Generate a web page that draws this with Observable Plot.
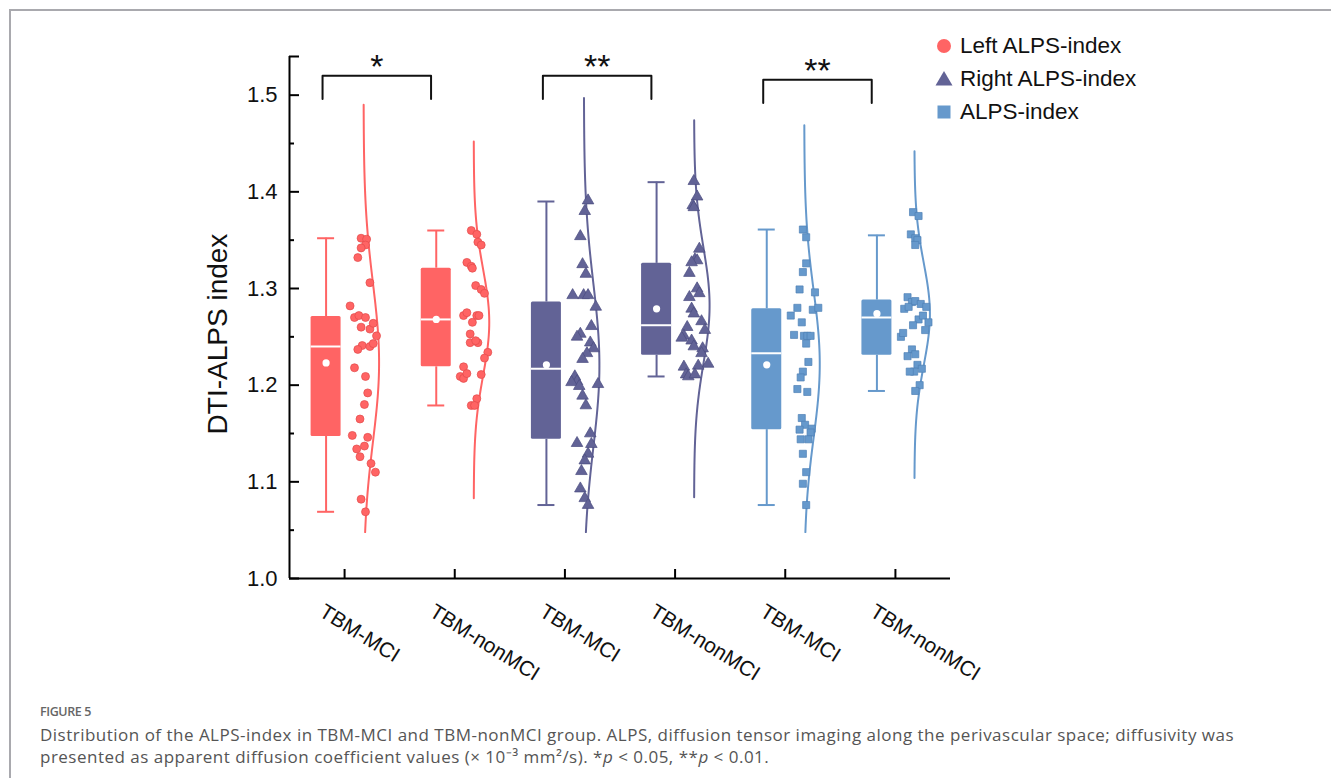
<!DOCTYPE html>
<html><head><meta charset="utf-8">
<script src="https://cdn.jsdelivr.net/npm/d3@7"></script>
<script src="https://cdn.jsdelivr.net/npm/@observablehq/plot@0.6"></script>
<style>
body{margin:0;background:#fff;}
#wrap{position:relative;width:1331px;height:778px;overflow:hidden;background:#fff;font-family:"Liberation Sans",Arial,sans-serif;}
#frame{position:absolute;left:9px;top:9px;width:1340px;height:800px;border-top:2px solid #a9a9ae;border-left:2px solid #a9a9ae;}
#chart{position:absolute;left:0;top:0;}
.item{position:absolute;left:934px;height:32px;display:flex;align-items:center;font-size:22.5px;color:#111;white-space:nowrap;}
.item svg{width:20px;height:20px;margin-right:6px;}
#fig{position:absolute;left:40px;top:703px;font-family:"Open Sans";font-size:12.5px;font-weight:600;color:#666;letter-spacing:-0.4px;}
#caption{position:absolute;left:40px;top:724px;width:1280px;font-family:"Open Sans";font-size:17px;line-height:22px;color:#555;letter-spacing:0.49px;white-space:nowrap;}
</style></head>
<body>
<div id="wrap">
  <div id="frame"></div>
  <div id="chart"></div>
  <div id="legend"></div>
  <div id="fig">FIGURE 5</div>
  <div id="caption">Distribution of the ALPS-index in TBM-MCI and TBM-nonMCI group. ALPS, diffusion tensor imaging along the perivascular space; diffusivity was<br>presented as apparent diffusion coefficient values (× 10⁻³ mm²/s). *<i>p</i> &lt; 0.05, **<i>p</i> &lt; 0.01.</div>
</div>
<script>
// ---------- data ----------
const groups = ["TBM-MCI","TBM-nonMCI","TBM-MCI","TBM-nonMCI","TBM-MCI","TBM-nonMCI"];
const seriesNames = ["Left ALPS-index","Right ALPS-index","ALPS-index"];
const seriesColors = ["#ff6464","#626396","#6699cc"];
const seriesStrokes = ["#e24a4a","#4b4c80","#4f81b6"];
const seriesSymbols = ["circle","triangle","square"];

const leftMCI = [1.352,1.351,1.345,1.342,1.332,1.306,1.282,1.270,1.272,1.270,1.260,1.258,1.264,1.251,1.241,1.237,1.240,1.243,1.218,1.209,1.192,1.180,1.165,1.148,1.146,1.134,1.137,1.126,1.119,1.110,1.082,1.069];
const leftMCIJitter = [0.15,0.20,0.19,0.15,0.12,0.23,0.05,0.09,0.13,0.19,0.15,0.23,0.26,0.29,0.16,0.12,0.23,0.26,0.09,0.19,0.21,0.18,0.14,0.07,0.21,0.11,0.18,0.14,0.24,0.28,0.15,0.19];
const leftNon = [1.360,1.356,1.348,1.345,1.327,1.323,1.321,1.303,1.299,1.295,1.272,1.275,1.272,1.272,1.265,1.253,1.244,1.244,1.246,1.234,1.228,1.219,1.209,1.207,1.212,1.211,1.186,1.179,1.179];
const leftNonJitter = [0.15,0.20,0.21,0.24,0.11,0.15,0.16,0.19,0.24,0.27,0.08,0.11,0.20,0.22,0.16,0.14,0.14,0.21,0.19,0.30,0.27,0.08,0.05,0.08,0.11,0.24,0.20,0.15,0.18];
const rightMCI = [1.391,1.380,1.354,1.325,1.315,1.293,1.293,1.293,1.281,1.261,1.253,1.250,1.244,1.238,1.233,1.227,1.209,1.204,1.203,1.199,1.201,1.189,1.179,1.150,1.140,1.139,1.129,1.122,1.111,1.093,1.083,1.076];
const rightMCIJitter = [0.21,0.18,0.14,0.16,0.19,0.07,0.17,0.21,0.28,0.24,0.14,0.11,0.23,0.26,0.20,0.16,0.09,0.11,0.06,0.13,0.30,0.16,0.19,0.23,0.11,0.24,0.21,0.18,0.15,0.14,0.18,0.21];
const rightNon = [1.411,1.395,1.386,1.384,1.341,1.330,1.329,1.327,1.316,1.300,1.295,1.291,1.279,1.274,1.266,1.260,1.257,1.251,1.249,1.246,1.240,1.238,1.233,1.222,1.219,1.220,1.211,1.209,1.211];
const rightNonJitter = [0.17,0.20,0.16,0.17,0.22,0.18,0.20,0.15,0.13,0.20,0.22,0.13,0.15,0.17,0.24,0.11,0.27,0.08,0.06,0.15,0.17,0.25,0.24,0.30,0.08,0.21,0.10,0.12,0.18];
const alpsMCI = [1.361,1.353,1.326,1.317,1.299,1.296,1.280,1.278,1.280,1.272,1.265,1.252,1.251,1.251,1.251,1.243,1.224,1.214,1.208,1.196,1.193,1.166,1.159,1.154,1.155,1.151,1.144,1.144,1.129,1.110,1.098,1.076];
const alpsMCIJitter = [0.16,0.19,0.19,0.16,0.13,0.27,0.11,0.25,0.30,0.05,0.15,0.08,0.17,0.20,0.23,0.19,0.21,0.16,0.14,0.11,0.20,0.15,0.18,0.13,0.24,0.23,0.14,0.21,0.16,0.19,0.16,0.19];
const alpsNon = [1.379,1.375,1.356,1.352,1.350,1.345,1.291,1.286,1.279,1.281,1.287,1.284,1.281,1.268,1.272,1.262,1.265,1.257,1.250,1.254,1.237,1.232,1.230,1.221,1.217,1.214,1.214,1.200,1.194];
const alpsNonJitter = [0.16,0.21,0.14,0.18,0.20,0.18,0.11,0.15,0.08,0.12,0.18,0.23,0.28,0.21,0.25,0.16,0.30,0.27,0.05,0.07,0.15,0.18,0.11,0.20,0.24,0.17,0.13,0.22,0.18];

const boxMin    = [1.069,1.179,1.076,1.209,1.076,1.194];
const boxQ1     = [1.147,1.219,1.144,1.231,1.154,1.231];
const boxMedian = [1.240,1.268,1.217,1.262,1.233,1.270];
const boxQ3     = [1.271,1.321,1.286,1.326,1.279,1.288];
const boxMax    = [1.352,1.360,1.390,1.410,1.361,1.355];
const boxMean   = [1.223,1.268,1.221,1.279,1.221,1.274];

const curveLo = [1.048,1.083,1.048,1.084,1.048,1.104];
const curveHi = [1.490,1.452,1.497,1.474,1.469,1.442];

const bracketFrom  = [1,3,5];
const bracketTo    = [2,4,6];
const bracketY     = [1.520,1.520,1.516];
const bracketLabel = ["*","**","**"];

const yTicks = [1.0,1.1,1.2,1.3,1.4,1.5];
const yMinorTicks = [1.05,1.15,1.25,1.35,1.45];
const yTitle = "DTI-ALPS index";

// ---------- layout helpers ----------
const W = 1331, H = 690;
const mL = 289, mR = 381, mT = 56, mB = 112;
const xDom = [0.5, 6.5], yDom = [1.0, 1.54];
const pxX = (W - mL - mR) / (xDom[1] - xDom[0]);
const pxY = (H - mT - mB) / (yDom[1] - yDom[0]);
const boxOff = -18.5 / pxX, boxHalf = 15 / pxX, capHalf = 8.5 / pxX;
const curveBase = 19 / pxX, curveAmp = 15.5 / pxX;

const values = [leftMCI,leftNon,rightMCI,rightNon,alpsMCI,alpsNon];
const jitters = [leftMCIJitter,leftNonJitter,rightMCIJitter,rightNonJitter,alpsMCIJitter,alpsNonJitter];
const seriesOf = g => Math.floor(g / 2);

const points = values.flatMap((vals, g) => vals.map((v, i) => ({g: g + 1, s: seriesOf(g), v, x: g + 1 + jitters[g][i]})));
const boxes = groups.map((name, g) => ({g: g + 1, s: seriesOf(g), c: g + 1 + boxOff,
  min: boxMin[g], q1: boxQ1[g], med: boxMedian[g], q3: boxQ3[g], max: boxMax[g], mean: boxMean[g]}));

// fitted normal curve from each group's mean and SD
const curves = values.flatMap((vals, g) => {
  const m = d3.mean(vals), sd = d3.deviation(vals);
  const n = 120, out = [];
  for (let k = 0; k <= n; k++) {
    const v = curveLo[g] + (curveHi[g] - curveLo[g]) * k / n;
    out.push({g: g + 1, s: seriesOf(g), v, x: g + 1 + curveBase + curveAmp * Math.exp(-((v - m) ** 2) / (2 * sd * sd))});
  }
  return out;
});

const legLen = 0.024;
const bracketPts = bracketFrom.flatMap((f, i) => {
  const x1 = f - 0.2, x2 = bracketTo[i] - 0.215, y = bracketY[i];
  return [{b: i, x: x1, y: y - legLen}, {b: i, x: x1, y}, {b: i, x: x2, y}, {b: i, x: x2, y: y - legLen}];
});
const bracketText = bracketFrom.map((f, i) => ({x: (f - 0.2 + bracketTo[i] - 0.215) / 2, y: bracketY[i], t: bracketLabel[i]}));

const marks = [];
seriesNames.forEach((name, s) => {
  const col = seriesColors[s];
  const bs = boxes.filter(b => b.s === s);
  marks.push(Plot.ruleX(bs, {x: "c", y1: "min", y2: "q1", stroke: col, strokeWidth: 2}));
  marks.push(Plot.ruleX(bs, {x: "c", y1: "q3", y2: "max", stroke: col, strokeWidth: 2}));
  marks.push(Plot.ruleY(bs, {y: "min", x1: d => d.c - capHalf, x2: d => d.c + capHalf, stroke: col, strokeWidth: 2}));
  marks.push(Plot.ruleY(bs, {y: "max", x1: d => d.c - capHalf, x2: d => d.c + capHalf, stroke: col, strokeWidth: 2}));
  marks.push(Plot.rect(bs, {x1: d => d.c - boxHalf, x2: d => d.c + boxHalf, y1: "q1", y2: "q3", fill: col, rx: 1.5}));
  marks.push(Plot.ruleY(bs, {y: "med", x1: d => d.c - boxHalf, x2: d => d.c + boxHalf, stroke: "#fff", strokeWidth: 2}));
  marks.push(Plot.dot(bs, {x: "c", y: "mean", r: 3.6, fill: "#fff", stroke: "none"}));
  marks.push(Plot.line(curves.filter(d => d.s === s), {x: "x", y: "v", z: "g", stroke: col, strokeWidth: 2, curve: "linear"}));
  marks.push(Plot.dot(points.filter(d => d.s === s), {x: "x", y: "v", symbol: seriesSymbols[s], r: s === 1 ? 4.3 : 4, fill: col, stroke: seriesStrokes[s], strokeWidth: 0.7}));
});
// brackets & significance stars
marks.push(Plot.line(bracketPts, {x: "x", y: "y", z: "b", stroke: "#111", strokeWidth: 2, curve: "linear"}));
marks.push(Plot.text(bracketText, {x: "x", y: "y", text: "t", fontSize: 34, dy: -9, fill: "#111", fontFamily: "Liberation Sans"}));
// axes
marks.push(Plot.ruleX([xDom[0]], {y1: yDom[0], y2: yDom[1], stroke: "#000", strokeWidth: 2}));
marks.push(Plot.ruleY([yDom[0]], {x1: xDom[0], x2: xDom[1], stroke: "#000", strokeWidth: 2}));
marks.push(Plot.ruleY(yTicks.concat([yDom[1]]), {y: d => d, x1: xDom[0], x2: xDom[0] + 10 / pxX, stroke: "#000", strokeWidth: 2}));
marks.push(Plot.ruleY(yMinorTicks, {y: d => d, x1: xDom[0], x2: xDom[0] + 5 / pxX, stroke: "#000", strokeWidth: 2}));
marks.push(Plot.ruleX(groups.map((g, i) => i + 1), {x: d => d, y1: yDom[0], y2: yDom[0] + 9 / pxY, stroke: "#000", strokeWidth: 2}));
marks.push(Plot.text(yTicks, {x: xDom[0], y: d => d, text: d => d.toFixed(1), textAnchor: "end", dx: -12, fontSize: 22, fill: "#111"}));
marks.push(Plot.text(groups.map((name, i) => ({x: i + 1, name})), {x: "x", y: yDom[0], text: "name", rotate: 32, textAnchor: "start", dx: -23, dy: 31, fontSize: 21, fill: "#111"}));
marks.push(Plot.text([yTitle], {x: xDom[0] - 71 / pxX, y: yDom[0] + (578 - 333.5) / pxY, text: d => d, rotate: -90, fontSize: 28, fill: "#111"}));

const chart = Plot.plot({
  width: W, height: H,
  marginLeft: mL, marginRight: mR, marginTop: mT, marginBottom: mB,
  x: {domain: xDom, axis: null},
  y: {domain: yDom, axis: null},
  style: {fontFamily: "Liberation Sans, Arial, sans-serif", background: "transparent", overflow: "visible"},
  marks
});
document.getElementById("chart").appendChild(chart);

// legend (HTML)
const legendCenters = [46, 79, 112];
const legendShapes = [
  c => `<circle cx="10" cy="10" r="7" fill="${c}"/>`,
  c => `<polygon points="10,2 18.5,16.5 1.5,16.5" fill="${c}"/>`,
  c => `<rect x="3.5" y="3.5" width="13" height="13" fill="${c}"/>`
];
const leg = document.getElementById("legend");
seriesNames.forEach((name, s) => {
  const div = document.createElement("div");
  div.className = "item";
  div.style.top = (legendCenters[s] - 16) + "px";
  div.innerHTML = `<svg viewBox="0 0 20 20">${legendShapes[s](seriesColors[s])}</svg><span>${name}</span>`;
  leg.appendChild(div);
});
</script>
</body></html>
